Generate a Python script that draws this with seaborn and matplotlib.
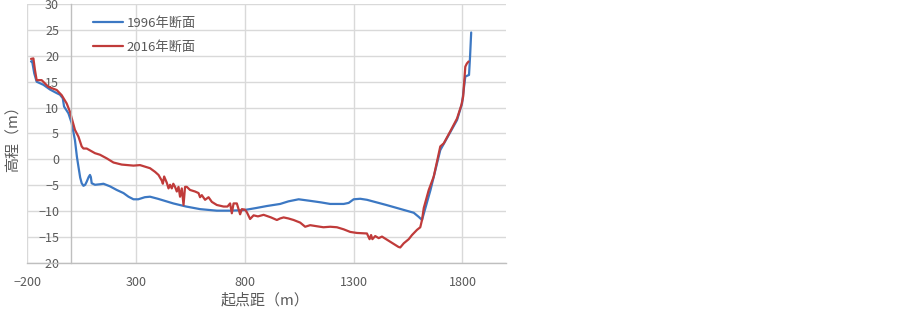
import numpy as np
import pandas as pd
import seaborn as sns
import matplotlib
matplotlib.use("Agg")
import matplotlib.pyplot as plt

# ---- data ----
x1996 = [-183, -178, -168, -157, -126, -96, -65, -50, -37, -31, -11, 4, 19, 28, 35, 43, 50, 58, 66, 73,
         82, 88, 92, 96, 111, 134, 150, 180, 211, 242, 265, 288, 310, 340, 364, 400, 471, 530, 594, 671,
         730, 794, 850, 901, 962, 1000, 1047, 1100, 1150, 1192, 1254, 1277, 1300, 1330, 1361, 1450, 1576,
         1599, 1614, 1653, 1698, 1775, 1798, 1813, 1830, 1835, 1840]
y1996 = [18.9, 19.0, 16.6, 15.0, 14.4, 13.5, 12.8, 12.5, 11.8, 10.2, 8.9, 7.0, 3.7, 0.5, -1.4, -3.5, -4.6,
         -5.1, -4.9, -4.3, -3.4, -3.0, -3.4, -4.6, -4.9, -4.8, -4.7, -5.2, -5.9, -6.5, -7.2, -7.7, -7.7,
         -7.3, -7.2, -7.6, -8.5, -9.1, -9.6, -9.9, -9.9, -9.8, -9.4, -9.0, -8.6, -8.1, -7.7, -8.0, -8.3,
         -8.6, -8.6, -8.4, -7.7, -7.6, -7.8, -8.8, -10.3, -11.1, -11.7, -5.9, 1.8, 7.6, 10.8, 16.0, 16.3,
         20.0, 24.5]

x2016 = [-183, -172, -165, -157, -134, -103, -65, -42, -19, -4, 19, 35, 50, 58, 73, 111, 134, 165, 196,
         234, 288, 318, 364, 387, 403, 418, 423, 429, 441, 449, 456, 464, 471, 479, 487, 495, 502, 510,
         518, 525, 533, 548, 571, 587, 594, 602, 617, 633, 648, 671, 702, 720, 732, 740, 748, 763, 778,
         786, 800, 809, 824, 840, 860, 886, 920, 947, 962, 978, 1000, 1024, 1054, 1077, 1100, 1130, 1161,
         1192, 1223, 1254, 1284, 1315, 1361, 1373, 1380, 1386, 1399, 1415, 1430, 1468, 1506, 1514, 1530,
         1553, 1568, 1591, 1606, 1614, 1622, 1645, 1668, 1698, 1714, 1745, 1775, 1795, 1803, 1813, 1820,
         1828]
y2016 = [19.4, 19.5, 17.3, 15.3, 15.3, 14.0, 13.4, 12.4, 10.8, 9.2, 5.7, 4.4, 2.5, 2.1, 2.1, 1.2, 0.9,
         0.2, -0.6, -1.0, -1.2, -1.1, -1.7, -2.4, -3.0, -4.1, -4.7, -3.3, -4.5, -5.6, -4.9, -5.6, -4.7,
         -5.3, -6.2, -5.3, -7.2, -5.6, -8.8, -5.3, -5.3, -5.9, -6.2, -6.5, -7.3, -6.9, -7.8, -7.3, -8.2,
         -8.8, -9.1, -9.1, -8.5, -10.4, -8.5, -8.5, -10.6, -9.6, -9.7, -10.2, -11.5, -10.8, -11.0, -10.7,
         -11.2, -11.7, -11.4, -11.2, -11.4, -11.7, -12.2, -13.0, -12.7, -12.9, -13.1, -13.0, -13.1, -13.5,
         -14.0, -14.2, -14.3, -15.4, -14.6, -15.4, -14.8, -15.2, -14.9, -15.9, -16.9, -17.0, -16.2, -15.4,
         -14.6, -13.6, -13.1, -11.7, -9.4, -5.9, -3.3, 2.5, 3.1, 5.5, 7.9, 10.5, 12.1, 17.9, 18.5, 18.9]

series_names = ["1996年断面", "2016年断面"]
series_colors = ["#3C78C3", "#C03B3A"]
x_ticks = [-200, 300, 800, 1300, 1800]
y_ticks = [-20, -15, -10, -5, 0, 5, 10, 15, 20, 25, 30]

df = pd.concat([
    pd.DataFrame({"x": x1996, "y": y1996, "series": series_names[0]}),
    pd.DataFrame({"x": x2016, "y": y2016, "series": series_names[1]}),
], ignore_index=True)

sns.set_theme(style="white")
plt.rcParams["font.family"] = ["Noto Sans CJK SC", "DejaVu Sans"]

W, H = 903, 311
fig = plt.figure(figsize=(W / 100, H / 100), dpi=100)
ax = fig.add_axes([27.3 / W, 1 - 263 / H, (506 - 27.3) / W, (263 - 4) / H])

sns.lineplot(data=df, x="x", y="y", hue="series", palette=dict(zip(series_names, series_colors)),
             sort=False, estimator=None, linewidth=1.6, ax=ax)
for ln in ax.lines:
    ln.set_solid_joinstyle("round")
    ln.set_solid_capstyle("round")

ax.set_xlim(-200, 2000)
ax.set_ylim(-20, 30)
ax.set_xticks(x_ticks)
ax.set_yticks(y_ticks)
ax.grid(True, color="#D9D9D9", linewidth=1.0)
ax.set_axisbelow(True)

for s in ["top", "right"]:
    ax.spines[s].set_visible(False)
ax.spines["left"].set_position(("data", 0))
ax.spines["left"].set_color("#BFBFBF")
ax.spines["left"].set_linewidth(1.0)
ax.spines["bottom"].set_color("#BFBFBF")
ax.spines["bottom"].set_linewidth(1.0)

ax.tick_params(axis="both", length=0, labelsize=9, labelcolor="#595959")
ax.tick_params(axis="y", pad=8.5)
ax.tick_params(axis="x", pad=9)

ax.set_xlabel("")
ax.set_ylabel("")
fig.text(265 / W, 1 - 300 / H, "起点距（m）", fontsize=10.8, color="#595959", ha="center", va="center")
fig.text(14 / W, 1 - 135 / H, "高程（m）", rotation=90, fontsize=10.8, color="#595959",
         ha="center", va="center")

ax.legend(loc="upper left", bbox_to_anchor=(93 / W, 1 - 16.5 / H), bbox_transform=fig.transFigure,
          frameon=False, fontsize=9.5, borderpad=0, borderaxespad=0,
          handlelength=2.3, handletextpad=0.25, labelspacing=0.88, labelcolor="#595959")
ax.get_legend().set_title(None)

fig.savefig("out.png", dpi=100)
